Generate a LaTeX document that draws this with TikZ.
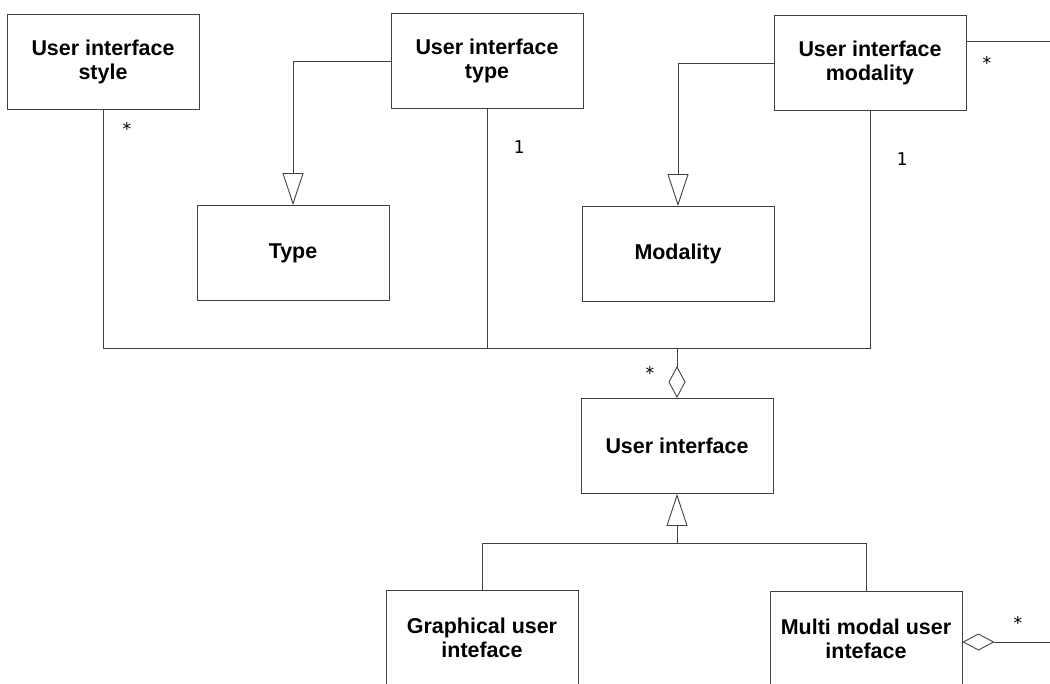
\documentclass[tikz,border=0pt]{standalone}
\usepackage{fontspec}
\setmainfont{Liberation Sans}
\setmonofont{DejaVu Sans Mono}
\usepackage{tikz}
\usetikzlibrary{shapes,arrows.meta,positioning,calc}

\begin{document}
\begin{tikzpicture}[
    box/.style={rectangle, draw=black!75, line width=0.5pt, minimum width=3.84cm, minimum height=1.9cm,
        align=center, font=\fontsize{12.2}{13.6}\selectfont\bfseries},
    line/.style={draw=black!75, line width=0.5pt},
    gen/.style={line, -{Triangle[open, length=0.64cm, width=0.42cm, fill=white]}},
    agg/.style={line, -{Diamond[open, length=0.64cm, width=0.34cm, fill=white]}},
    mult/.style={inner sep=0pt, font=\ttfamily\fontsize{10}{11}\selectfont}
]
\useasboundingbox (-2.06,1.22) rectangle (18.94,-12.46);

\node[box] (style) at (0,-0.02) {User interface\\style};
\node[box] (uitype) at (7.68,0) {User interface\\type};
\node[box] (uimod) at (15.34,-0.04) {User interface\\modality};
\node[box] (type) at (3.80,-3.84) {Type};
\node[box] (modality) at (11.50,-3.86) {Modality};
\node[box] (ui) at (11.48,-7.70) {User interface};
\node[box] (gui) at (7.58,-11.54) {Graphical user\\inteface};
\node[box] (mmui) at (15.26,-11.56) {Multi modal user\\inteface};

\coordinate (bus) at ($(ui.north)+(0,0.99)$);
\coordinate (fork) at ($(ui.south)+(0,-0.98)$);
\coordinate (edgea) at (19.2,0.40);
\coordinate (edgeb) at (19.2,-11.62);

\draw[gen] (uitype.west) -| (type.north);
\draw[gen] (uimod.west) -| (modality.north);
\draw[line] (style.south) |- (bus) -| (uimod.south);
\draw[line] (uitype.south) -- (uitype.south |- bus);
\draw[agg] (bus) -- (ui.north);
\draw[line] (gui.north) |- (fork) -| (mmui.north);
\draw[gen] (fork) -- (ui.south);
\draw[line] (uimod.east |- edgea) -- (edgea);
\draw[agg] (edgeb) -- (mmui.east |- edgeb);

\node[mult] (m1) at (0.48,-1.36) {*};
\node[mult] (m2) at (8.32,-1.72) {1};
\node[mult] (m3) at (15.98,-1.96) {1};
\node[mult] (m4) at (17.68,-0.04) {*};
\node[mult] (m5) at (10.94,-6.24) {*};
\node[mult] (m6) at (18.30,-11.24) {*};
\end{tikzpicture}
\end{document}
